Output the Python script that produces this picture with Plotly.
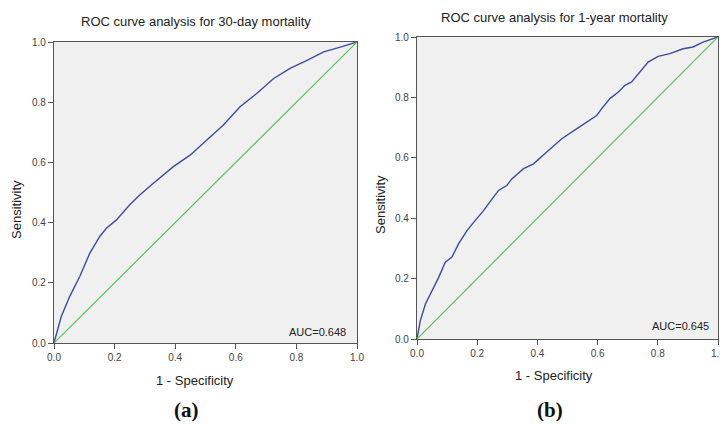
import plotly.graph_objects as go

# ---- data ----
fpr_30d = [0, 0.024, 0.052, 0.085, 0.118, 0.151, 0.173, 0.206, 0.250, 0.283, 0.327,
           0.394, 0.449, 0.504, 0.559, 0.614, 0.669, 0.724, 0.779, 0.835, 0.890, 0.945, 1.0]
tpr_30d = [0, 0.088, 0.155, 0.221, 0.298, 0.354, 0.381, 0.409, 0.459, 0.492, 0.530,
           0.586, 0.624, 0.674, 0.724, 0.785, 0.829, 0.878, 0.912, 0.939, 0.967, 0.983, 1.0]

fpr_1y = [0, 0.011, 0.028, 0.050, 0.072, 0.094, 0.116, 0.138, 0.166, 0.193, 0.221, 0.254,
          0.271, 0.298, 0.315, 0.354, 0.387, 0.431, 0.481, 0.530, 0.564, 0.597, 0.613,
          0.641, 0.669, 0.691, 0.713, 0.740, 0.768, 0.801, 0.840, 0.884, 0.917, 0.950, 1.0]
tpr_1y = [0, 0.061, 0.116, 0.160, 0.204, 0.254, 0.271, 0.315, 0.359, 0.392, 0.425, 0.470,
          0.492, 0.508, 0.530, 0.564, 0.580, 0.619, 0.663, 0.696, 0.718, 0.740, 0.762,
          0.796, 0.818, 0.840, 0.851, 0.884, 0.917, 0.936, 0.945, 0.961, 0.967, 0.983, 1.0]

ref_line = [0, 1]
tick_vals = [0, 0.2, 0.4, 0.6, 0.8, 1.0]
tick_text = ["0.0", "0.2", "0.4", "0.6", "0.8", "1.0"]

titles = ["ROC curve analysis for 30-day mortality", "ROC curve analysis for 1-year mortality"]
auc_labels = ["AUC=0.648", "AUC=0.645"]
panel_labels = ["(a)", "(b)"]
x_title = "1 - Specificity"
y_title = "Sensitivity"

W, H = 720, 425
BLUE = "#3c4c9c"
GREEN = "#5cc05c"
FONT = "Liberation Sans, Arial, sans-serif"

fig = go.Figure()

fig.add_trace(go.Scatter(x=fpr_30d, y=tpr_30d, mode="lines", line=dict(color=BLUE, width=1.4),
                         xaxis="x", yaxis="y", showlegend=False))
fig.add_trace(go.Scatter(x=ref_line, y=ref_line, mode="lines", line=dict(color=GREEN, width=1.2),
                         xaxis="x", yaxis="y", showlegend=False))
fig.add_trace(go.Scatter(x=fpr_1y, y=tpr_1y, mode="lines", line=dict(color=BLUE, width=1.4),
                         xaxis="x2", yaxis="y2", showlegend=False))
fig.add_trace(go.Scatter(x=ref_line, y=ref_line, mode="lines", line=dict(color=GREEN, width=1.2),
                         xaxis="x2", yaxis="y2", showlegend=False))

def px_x(p):
    return p / W

def px_y(p):
    return 1 - p / H

axis_common = dict(range=[0, 1], tickvals=tick_vals, ticktext=tick_text, showgrid=False,
                   zeroline=False, showline=True, linecolor="#555555", linewidth=1.2, mirror=True,
                   ticks="outside", ticklen=5, tickcolor="#555555", automargin=False,
                   ticklabeloverflow="allow",
                   tickfont=dict(family=FONT, size=10, color="#444444"), fixedrange=True)

# panel pixel boxes: left 54..357 x 42..343 ; right 417..718 x 37..339
fig.update_layout(
    template="none",
    width=W, height=H, margin=dict(l=0, r=0, t=0, b=0, autoexpand=False),
    paper_bgcolor="white", plot_bgcolor="#f0f0f0",
    xaxis=dict(domain=[px_x(54), px_x(357)], anchor="y", **axis_common),
    yaxis=dict(domain=[px_y(343), px_y(42)], anchor="x", **axis_common),
    xaxis2=dict(domain=[px_x(417), px_x(718)], anchor="y2", **axis_common),
    yaxis2=dict(domain=[px_y(339), px_y(37)], anchor="x2", **axis_common),
)

ann = []
text_font = dict(family=FONT, size=13, color="#222222")
# titles
ann.append(dict(text=titles[0], x=px_x(196), y=px_y(21), xref="paper", yref="paper",
                showarrow=False, font=text_font, xanchor="center", yanchor="middle"))
ann.append(dict(text=titles[1], x=px_x(554), y=px_y(17), xref="paper", yref="paper",
                showarrow=False, font=text_font, xanchor="center", yanchor="middle"))
# x titles
ann.append(dict(text=x_title, x=px_x(195), y=px_y(380), xref="paper", yref="paper",
                showarrow=False, font=text_font, xanchor="center", yanchor="middle"))
ann.append(dict(text=x_title, x=px_x(554), y=px_y(375), xref="paper", yref="paper",
                showarrow=False, font=text_font, xanchor="center", yanchor="middle"))
# y titles
ann.append(dict(text=y_title, x=px_x(16), y=px_y(210), xref="paper", yref="paper", textangle=-90,
                showarrow=False, font=text_font, xanchor="center", yanchor="middle"))
ann.append(dict(text=y_title, x=px_x(380), y=px_y(205), xref="paper", yref="paper", textangle=-90,
                showarrow=False, font=text_font, xanchor="center", yanchor="middle"))
# AUC labels
ann.append(dict(text=auc_labels[0], x=0.97, y=0.037, xref="x", yref="y",
                showarrow=False, font=dict(family=FONT, size=11, color="#222222"),
                xanchor="right", yanchor="middle"))
ann.append(dict(text=auc_labels[1], x=0.977, y=0.043, xref="x2", yref="y2",
                showarrow=False, font=dict(family=FONT, size=11, color="#222222"),
                xanchor="right", yanchor="middle"))
# panel labels
label_font = dict(family="Liberation Serif, DejaVu Serif, serif", size=21, color="#111111")
ann.append(dict(text="<b>" + panel_labels[0] + "</b>", x=px_x(186), y=px_y(410), xref="paper",
                yref="paper", showarrow=False, font=label_font, xanchor="center", yanchor="middle"))
ann.append(dict(text="<b>" + panel_labels[1] + "</b>", x=px_x(550), y=px_y(410), xref="paper",
                yref="paper", showarrow=False, font=label_font, xanchor="center", yanchor="middle"))

fig.update_layout(annotations=ann)
fig.write_html("out.html", config={"displayModeBar": False},
               post_script="document.body.style.margin='0px';")
